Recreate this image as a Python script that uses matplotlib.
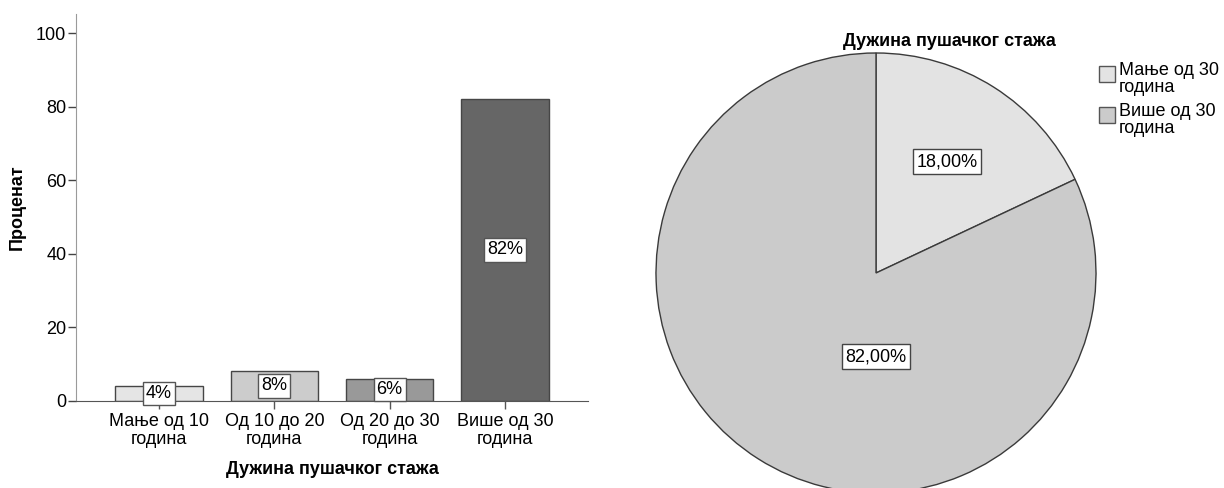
import matplotlib
matplotlib.use("Agg")
import matplotlib.pyplot as plt
from matplotlib.patches import Rectangle

plt.rcParams['font.family'] = ['Liberation Sans', 'DejaVu Sans']

# Bar chart data
categories = ["Мање од 10\nгодина", "Од 10 до 20\nгодина", "Од 20 до 30\nгодина", "Више од 30\nгодина"]
percent = [4, 8, 6, 82]
bar_labels = ["4%", "8%", "6%", "82%"]
bar_colors = ["#e5e5e5", "#cccccc", "#999999", "#666666"]

# Pie chart data
pie_names = ["Мање од 30\nгодина", "Више од 30\nгодина"]
pie_values = [18.0, 82.0]
pie_colors = ["#e3e3e3", "#cbcbcb"]

title_text = "Дужина пушачког стажа"
ylabel_text = "Проценат"
yticks = [0, 20, 40, 60, 80, 100]

W, H = 1224, 488
fig = plt.figure(figsize=(W / 100, H / 100), dpi=100)


def px_axes(x0, y0_top, x1, y1_top):
    return fig.add_axes([x0 / W, 1 - y1_top / H, (x1 - x0) / W, (y1_top - y0_top) / H])


def fx(x):
    return x / W


def fy(y):
    return 1 - y / H


# ---- Bar chart ----
ax = px_axes(76, 14, 588, 400.7)
xs = range(len(categories))
ax.bar(xs, percent, width=0.757, color=bar_colors, edgecolor="#464646", linewidth=1.0, zorder=2)
ax.set_xlim(-0.72, 3.72)
ax.set_ylim(0, 105.2)
ax.set_yticks(yticks)
ax.set_xticks(list(xs))
ax.set_xticklabels(categories, fontsize=13, linespacing=1.08)
ax.tick_params(axis='y', labelsize=13, length=6, width=1, color="#444444", pad=1)
ax.tick_params(axis='x', length=6, width=1, color="#555555", pad=3)
for s in ("top", "right"):
    ax.spines[s].set_visible(False)
ax.spines["left"].set_color("#9a9a9a")
ax.spines["bottom"].set_color("#555555")
ax.set_xlabel(title_text, fontsize=13, fontweight="bold")
ax.xaxis.set_label_coords(0.5, -(470 - 400.7) / 386.7)
ax.xaxis.label.set_va("center")
fig.text(fx(17), fy(207), ylabel_text, rotation=90, ha="center", va="center",
         fontsize=13, fontweight="bold")
for x, v, lab in zip(xs, percent, bar_labels):
    ax.text(x, v / 2, lab, ha="center", va="center", fontsize=13, zorder=5,
            bbox=dict(boxstyle="square,pad=0.17", facecolor="white", edgecolor="#555555", linewidth=1))

# ---- Pie chart ----
cx, cy, r = 876, 273, 220
pax = px_axes(cx - r, cy - r, cx + r, cy + r)
wedges, texts, autotexts = pax.pie(
    pie_values, colors=pie_colors, startangle=90, counterclock=False,
    wedgeprops=dict(edgecolor="#3a3a3a", linewidth=1.0),
    autopct=lambda p: f"{p:.2f}%".replace(".", ","), pctdistance=0.6,
    textprops=dict(fontsize=13))
pax.set_aspect('auto')
pax.set_xlim(-1.0, 1.0)
pax.set_ylim(-1.0, 1.0)
autotexts[1].set_position((0.0, -0.38))
for t in autotexts:
    t.set_bbox(dict(boxstyle="square,pad=0.2", facecolor="white", edgecolor="#444444", linewidth=1))
for w in wedges:
    w.set_clip_on(False)

fig.text(fx(949), fy(42), title_text, ha="center", va="center", fontsize=13, fontweight="bold")

# Legend: swatch beside the first line of each two-line label
for i, (name, col) in enumerate(zip(pie_names, pie_colors)):
    top = 66 + i * 41
    fig.add_artist(Rectangle((fx(1099), fy(top + 16)), 16 / W, 16 / H,
                             transform=fig.transFigure, facecolor=col,
                             edgecolor="#555555", linewidth=1))
    fig.text(fx(1119), fy(top - 4), name, ha="left", va="top", fontsize=13, linespacing=1.02)

fig.savefig("out.png", dpi=100, facecolor="white")
